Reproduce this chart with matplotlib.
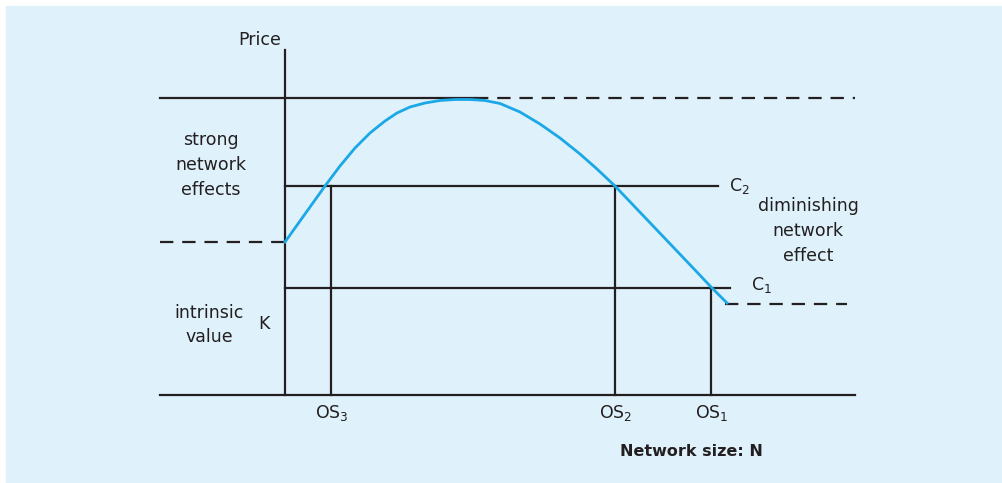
import matplotlib.pyplot as plt
from matplotlib.patches import Rectangle

plt.rcParams['font.family'] = 'DejaVu Sans'
plt.rcParams['mathtext.default'] = 'regular'

# demand / value curve: network size N vs price (chart units, origin at axes crossing)
curve_n = [0, 15, 30, 40, 55, 70, 85, 100, 112, 125, 140, 155, 170, 185, 200,
           215, 235, 255, 275, 295, 312, 330, 350, 370, 390, 410, 427, 442]
curve_p = [153, 174, 195, 209, 229, 247, 262, 274, 282, 288, 292, 294.5, 295.5, 295.5, 294.5,
           291.5, 283, 271, 257, 241, 226, 209, 188, 167, 146, 125, 107, 92]

# price levels
p_top = 297
p_c2 = 209
p_c1 = 107
p_k = 153
p_floor = 91

# network sizes where cost lines cut the curve
os_labels = ['OS$_3$', 'OS$_2$', 'OS$_1$']
os_n = [46, 330, 426]
os_p = [p_c2, p_c2, p_c1]

line_col = '#231f20'
curve_col = '#1ba8e6'
bg_col = '#dff1fb'

fig = plt.figure(figsize=(10.02, 4.83), dpi=100)
ax = fig.add_axes([0, 0, 1, 1])
ax.set_xlim(-285, 717)
ax.set_ylim(-88, 395)
ax.axis('off')

ax.add_patch(Rectangle((-279, -88), 1000, 477, color=bg_col, zorder=0))

lw = 1.6
dash = (0, (6, 4))
# axes
ax.plot([0, 0], [0, 345], color=line_col, lw=lw)
ax.plot([-125, 570], [0, 0], color=line_col, lw=lw)

# top level
ax.plot([-125, 190], [p_top, p_top], color=line_col, lw=lw)
ax.plot([190, 570], [p_top, p_top], color=line_col, lw=lw, ls=dash)

# cost lines
ax.plot([0, 433], [p_c2, p_c2], color=line_col, lw=lw)
ax.plot([0, 445], [p_c1, p_c1], color=line_col, lw=lw)

# dashed reference levels
ax.plot([-125, 0], [p_k, p_k], color=line_col, lw=lw, ls=dash)
ax.plot([440, 562], [p_floor, p_floor], color=line_col, lw=lw, ls=dash)

# verticals down to the N axis
for n, p in zip(os_n, os_p):
    ax.plot([n, n], [0, p], color=line_col, lw=lw)

ax.plot(curve_n, curve_p, color=curve_col, lw=2, zorder=5, solid_joinstyle='round')

fs = 12.5
txt = '#231f20'
ax.text(-25, 355, 'Price', fontsize=fs, color=txt, ha='center', va='center')
ax.text(-74, 230, 'strong\nnetwork\neffects', fontsize=fs, color=txt,
        ha='center', va='center', linespacing=1.5)
ax.text(-76, 70, 'intrinsic\nvalue', fontsize=fs, color=txt,
        ha='center', va='center', linespacing=1.5)
ax.text(-21, 71, 'K', fontsize=fs, color=txt, ha='center', va='center')
ax.text(523, 164, 'diminishing\nnetwork\neffect', fontsize=fs, color=txt,
        ha='center', va='center', linespacing=1.5)
ax.text(444, p_c2, 'C$_2$', fontsize=fs, color=txt, ha='left', va='center')
ax.text(466, p_c1 + 3, 'C$_1$', fontsize=fs, color=txt, ha='left', va='center')
for lab, n in zip(os_labels, os_n):
    ax.text(n + 1, -18, lab, fontsize=fs, color=txt, ha='center', va='center')
ax.text(406, -57, 'Network size: N', fontsize=11.5, color=txt, fontweight='bold',
        ha='center', va='center')

fig.savefig('out.png', dpi=100)
